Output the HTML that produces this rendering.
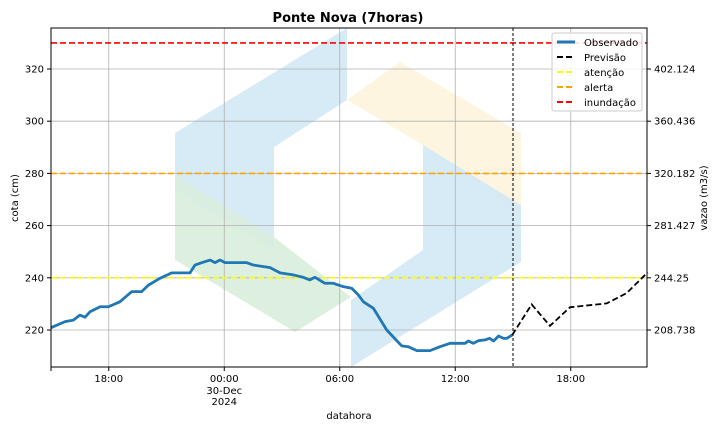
<!DOCTYPE html>
<html><head><meta charset="utf-8"><style>
body{margin:0;background:#fff;font-family:"Liberation Sans","DejaVu Sans",sans-serif;}
svg text{font-family:"DejaVu Sans","Liberation Sans",sans-serif;}
</style></head><body>
<svg id="chart" width="720" height="432" xmlns="http://www.w3.org/2000/svg">
<rect width="720" height="432" fill="#fff"/>
<text x="348" y="22" text-anchor="middle" font-size="13" font-weight="bold">Ponte Nova (7horas)</text>
<g id="wm">
<polygon points="175,133 347,28 347,100 274,147 274,250 175,190" fill="#d3e9f6" opacity="0.9"/>
<polygon points="175,175 274,237 351,297 295,332 175,260" fill="#d9eedd" opacity="0.9"/>
<polygon points="347,100 400,62 521,133 521,215 423,145" fill="#fdf5df"/>
<polygon points="423,145 521,205 521,262 351,367 351,300 423,250" fill="#d3e9f6" opacity="0.9"/>
</g>
<g id="grid"></g>
<g id="marks"></g>
<rect x="51" y="28" width="596" height="339" fill="none" stroke="#000" stroke-width="1"/>
<g id="axes"></g>
<text x="349" y="419" text-anchor="middle" font-size="10">datahora</text>
<text transform="translate(18,198) rotate(-90)" text-anchor="middle" font-size="10">cota (cm)</text>
<text transform="translate(707,198) rotate(-90)" text-anchor="middle" font-size="10">vazao (m3/s)</text>
<g>
<rect x="552" y="33" width="90" height="78" fill="#fff" fill-opacity="0.85" stroke="#ccc" rx="2"/>
<line x1="557" y1="42" x2="575" y2="42" stroke="#1f77b4" stroke-width="3"/><text x="584" y="46" font-size="10">Observado</text>
<line x1="557" y1="57" x2="575" y2="57" stroke="#000" stroke-width="2" stroke-dasharray="6,3"/><text x="584" y="61" font-size="10">Previsão</text>
<line x1="557" y1="72" x2="575" y2="72" stroke="#ffff00" stroke-width="2" stroke-dasharray="6,3"/><text x="584" y="76" font-size="10">atenção</text>
<line x1="557" y1="87" x2="575" y2="87" stroke="#ffa500" stroke-width="2" stroke-dasharray="6,3"/><text x="584" y="91" font-size="10">alerta</text>
<line x1="557" y1="102" x2="575" y2="102" stroke="#ff0000" stroke-width="2" stroke-dasharray="6,3"/><text x="584" y="106" font-size="10">inundação</text>
</g>
</svg>
<script>
const obsHours=[0,0.73,1.16,1.5,1.77,2.03,2.55,2.98,3.58,4.19,4.71,5.06,5.66,6.27,7.22,7.48,7.83,8.26,8.52,8.78,9.04,10.17,10.51,11.38,11.9,12.59,13.1,13.45,13.71,14.23,14.67,15.18,15.62,15.97,16.23,16.75,17.44,18.22,18.56,19,19.69,20.21,20.73,21.51,21.68,21.94,22.2,22.55,22.78,22.99,23.25,23.51,23.68,23.96];
const obsValues=[220.9,223.2,223.8,225.7,224.9,227,228.9,228.9,230.8,234.7,234.7,237.2,239.8,241.9,241.9,244.9,245.8,246.8,245.8,246.8,245.8,245.8,244.9,243.9,241.9,241.1,240.2,239.2,240.2,237.9,237.9,236.6,236,233.4,230.8,228.3,220,213.9,213.6,212.1,212.1,213.6,214.9,214.9,215.8,214.9,215.9,216.2,216.8,215.8,217.7,216.8,216.8,218.1];
const fcHours=[23.96,24.97,25.92,26.96,28.87,29.9,30.86,31];
const fcValues=[218.1,229.8,221.6,228.7,230.2,234.1,241.1,242];
const yTicks=[220,240,260,280,300,320];
const y2Labels=["208.738","244.25","281.427","320.182","360.436","402.124"];
const xTickHours=[3,9,15,21,27];
const xTickLabels=["18:00","00:00","06:00","12:00","18:00"];
const thresholds=[240,280,330];
const thresholdColors=["#ffff00","#ffa500","#ff0000"];
const nowHour=24;
const X=h=>51+h*19.25, Y=v=>330-(v-220)*2.61;
const NS="http://www.w3.org/2000/svg";
function mk(tag,attrs,parent){const e=document.createElementNS(NS,tag);for(const k in attrs)e.setAttribute(k,attrs[k]);parent.appendChild(e);return e;}
const grid=document.getElementById('grid'),marks=document.getElementById('marks'),axes=document.getElementById('axes');
yTicks.forEach((v,i)=>{
 const g=mk('line',{x1:51,x2:647,y1:Y(v),y2:Y(v),stroke:'#b0b0b0','stroke-width':0.8},grid);
 
 
 mk('line',{x1:47,x2:51,y1:Y(v),y2:Y(v),stroke:'#000'},axes);
 mk('line',{x1:647,x2:651,y1:Y(v),y2:Y(v),stroke:'#000'},axes);
 const t=mk('text',{x:44,y:Y(v)+3.5,'text-anchor':'end','font-size':10},axes);t.textContent=v;
 
 
 const t2=mk('text',{x:654,y:Y(v)+3.5,'font-size':10},axes);t2.textContent=y2Labels[i];
 
 
});
xTickHours.forEach((h,i)=>{
 const g=mk('line',{x1:X(h),x2:X(h),y1:28,y2:367,stroke:'#b0b0b0','stroke-width':0.8},grid);
 
 
 mk('line',{x1:X(h),x2:X(h),y1:367,y2:371,stroke:'#000'},axes);
 const t=mk('text',{x:X(h),y:382,'text-anchor':'middle','font-size':10},axes);t.textContent=xTickLabels[i];
 
 
});
mk('line',{x1:X(0),x2:X(0),y1:367,y2:371,stroke:'#000'},axes);
const d1=mk('text',{x:X(9),y:394,'text-anchor':'middle','font-size':10},axes);d1.textContent='30-Dec';
const d2=mk('text',{x:X(9),y:405,'text-anchor':'middle','font-size':10},axes);d2.textContent='2024';
thresholds.forEach((v,i)=>{
 const l=mk('line',{x1:51,x2:647,y1:Y(v),y2:Y(v),stroke:thresholdColors[i],'stroke-width':1.6,'stroke-dasharray':'6,3'},marks);
 
 
});
const vl=mk('line',{x1:X(nowHour),x2:X(nowHour),y1:28,y2:367,stroke:'#000','stroke-width':1,'stroke-dasharray':'3,2'},marks);


const ob=mk('polyline',{points:obsHours.map((h,i)=>X(h)+','+Y(obsValues[i])).join(' '),fill:'none',stroke:'#1f77b4','stroke-width':2.8,'stroke-linejoin':'round'},marks);


const fc=mk('polyline',{points:fcHours.map((h,i)=>X(h)+','+Y(fcValues[i])).join(' '),fill:'none',stroke:'#000','stroke-width':1.8,'stroke-dasharray':'6,3'},marks);


</script>
</body></html>
